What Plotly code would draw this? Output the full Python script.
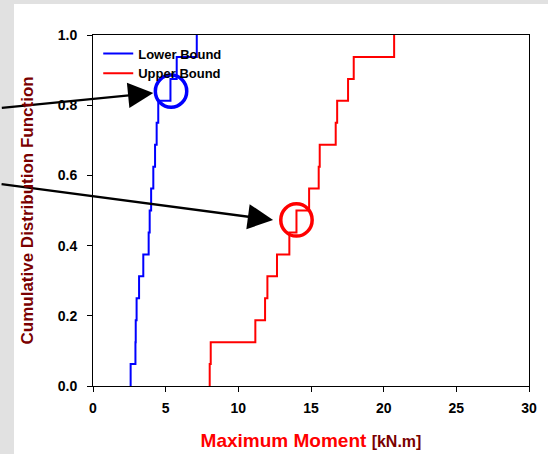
import plotly.graph_objects as go

# ---- data (sorted samples of the maximum moment, kN.m) ----
lower_bound = [2.59, 2.92, 2.94, 3.00, 3.17, 3.46, 3.83, 3.90,
               4.00, 4.15, 4.27, 4.38, 4.49, 5.33, 5.76, 7.14]
upper_bound = [8.03, 8.10, 11.17, 11.84, 12.00, 12.66, 13.51, 14.00,
               14.87, 15.53, 15.60, 16.70, 16.80, 17.55, 17.94, 20.72]
series_names = ["Lower Bound", "Upper Bound"]
x_ticks = [0, 5, 10, 15, 20, 25, 30]
y_ticks = [0.0, 0.2, 0.4, 0.6, 0.8, 1.0]
y_title = "Cumulative Distribution Function"

# highlighted points (circle centre x, y)
highlight_lower = (5.37, 0.84)
highlight_upper = (14.0, 0.473)
arrow_tip_lower = (4.15, 0.835)
arrow_tip_upper = (12.39, 0.473)


def ecdf(samples):
    n = len(samples)
    xs = [samples[0]] + list(samples)
    ys = [0.0] + [(i + 1) / n for i in range(n)]
    return xs, ys


FONT = "Arial, Liberation Sans, sans-serif"
fig = go.Figure()
for name, vals, col in [(series_names[0], lower_bound, "#0000ff"),
                        (series_names[1], upper_bound, "#ff0000")]:
    xs, ys = ecdf(vals)
    fig.add_trace(go.Scatter(x=xs, y=ys, mode="lines", name=name,
                             line=dict(color=col, width=2, shape="hv")))

# background panel (gray border strips, white panel)
fig.add_shape(type="rect", xref="paper", yref="paper",
              x0=(14 - 93) / 436, x1=(560 - 93) / 436,
              y0=(386 - 470) / 351, y1=(386 - 4) / 351,
              fillcolor="white", line=dict(width=0), layer="below")

# circles
rx, ry = 1.08, 0.046
for (cx, cy), col in [(highlight_lower, "#0000ff"), (highlight_upper, "#ff0000")]:
    fig.add_shape(type="circle", xref="x", yref="y",
                  x0=cx - rx, x1=cx + rx, y0=cy - ry, y1=cy + ry,
                  line=dict(color=col, width=3.5))

# arrows from outside the plot
for (tx, ty), ax, ay in [(arrow_tip_lower, -153, 15), (arrow_tip_upper, -273, -36)]:
    fig.add_annotation(x=tx, y=ty, xref="x", yref="y", text="",
                       showarrow=True, ax=ax, ay=ay, axref="pixel", ayref="pixel",
                       arrowhead=2, arrowsize=2.2, arrowwidth=2.3,
                       arrowcolor="black")

# y-axis title as rotated text
fig.add_annotation(x=(27 - 93) / 436, y=0.5, xref="paper", yref="paper",
                   text=y_title, showarrow=False, textangle=-90,
                   xanchor="center", yanchor="middle",
                   font=dict(size=17, color="#7a0000", weight="bold", family=FONT))

fig.update_layout(
    width=548, height=454,
    margin=dict(l=93, r=19, t=35, b=68),
    paper_bgcolor="#e1e1e1", plot_bgcolor="white",
    font=dict(family=FONT, color="black"),
    showlegend=True,
    legend=dict(x=0.012, y=0.99, xanchor="left", yanchor="top",
                bgcolor="rgba(0,0,0,0)", borderwidth=0,
                font=dict(size=13, color="black", family=FONT, weight="bold"),
                tracegroupgap=0, itemwidth=30),
)
fig.update_xaxes(range=[0, 30], tickvals=x_ticks,
                 ticktext=[str(t) for t in x_ticks],
                 showgrid=False, zeroline=False, automargin=False,
                 showline=True, linecolor="black", linewidth=1, mirror=True,
                 ticks="outside", ticklen=5, tickcolor="black",
                 ticklabelstandoff=4,
                 tickfont=dict(size=14, color="black", weight="bold"),
                 title=dict(text="Maximum Moment <span style='font-size:16px;color:#7a0000'>[kN.m]</span>",
                            font=dict(size=19, color="#ff0000", weight="bold"), standoff=18))
fig.update_yaxes(range=[0, 1], tickvals=y_ticks,
                 ticktext=[f"{t:.1f}" for t in y_ticks],
                 showgrid=False, zeroline=False, automargin=False,
                 showline=True, linecolor="black", linewidth=1, mirror=True,
                 ticks="outside", ticklen=5, tickcolor="black",
                 ticklabelstandoff=7,
                 tickfont=dict(size=14, color="black", weight="bold"))

fig.write_html("out.html", config={"displayModeBar": False},
               post_script="document.body.style.margin='0px';")
